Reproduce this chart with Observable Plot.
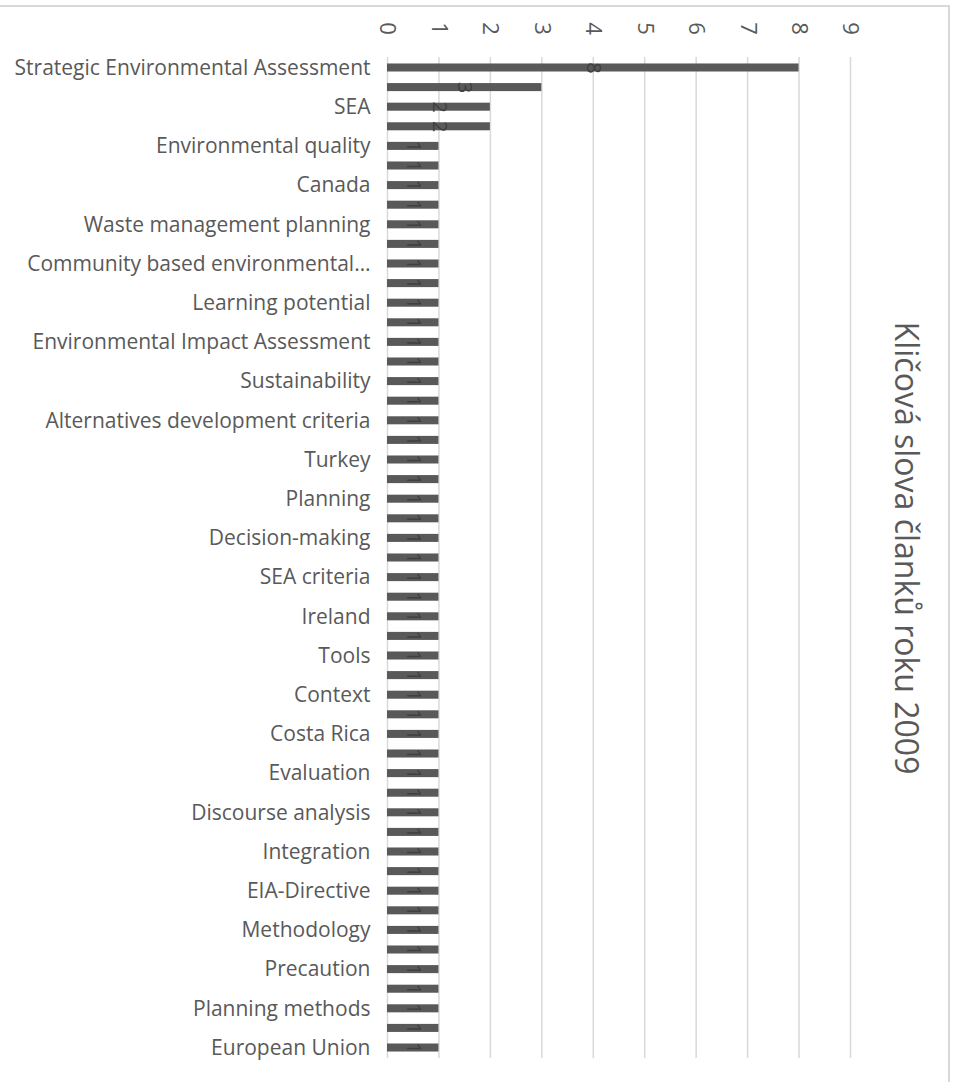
<!DOCTYPE html>
<html>
<head>
<meta charset="utf-8">
<script src="https://cdn.jsdelivr.net/npm/d3@7"></script>
<script src="https://cdn.jsdelivr.net/npm/@observablehq/plot@0.6"></script>
<style>
  html, body { margin: 0; padding: 0; background: #fff; }
  #wrap { position: relative; width: 954px; height: 1082px; overflow: hidden; }
  #wrap .bt { position: absolute; left: 0; top: 5px; width: 950px; height: 2px; background: #d9d9d9; }
  #wrap .br { position: absolute; left: 948px; top: 5px; width: 2px; height: 1077px; background: #d9d9d9; }
</style>
</head>
<body>
<div id="wrap"><div class="bt"></div><div class="br"></div></div>
<script>
// Keywords in chart order (top to bottom); null = label hidden in the original chart
const keywords = [
  "Strategic Environmental Assessment", null,
  "SEA", null,
  "Environmental quality", null,
  "Canada", null,
  "Waste management planning", null,
  "Community based environmental…", null,
  "Learning potential", null,
  "Environmental Impact Assessment", null,
  "Sustainability", null,
  "Alternatives development criteria", null,
  "Turkey", null,
  "Planning", null,
  "Decision-making", null,
  "SEA criteria", null,
  "Ireland", null,
  "Tools", null,
  "Context", null,
  "Costa Rica", null,
  "Evaluation", null,
  "Discourse analysis", null,
  "Integration", null,
  "EIA-Directive", null,
  "Methodology", null,
  "Precaution", null,
  "Planning methods", null,
  "European Union"
];
const counts = [
  8, 3, 2, 2, 1, 1, 1, 1, 1, 1,
  1, 1, 1, 1, 1, 1, 1, 1, 1, 1,
  1, 1, 1, 1, 1, 1, 1, 1, 1, 1,
  1, 1, 1, 1, 1, 1, 1, 1, 1, 1,
  1, 1, 1, 1, 1, 1, 1, 1, 1, 1,
  1
];
const xTicks = [0, 1, 2, 3, 4, 5, 6, 7, 8, 9];
const title = "Kličová slova članků roku 2009";

const data = counts.map((v, i) => ({i, v, name: keywords[i]}));
const FONT = "'Open Sans', 'Noto Sans', sans-serif";

const chart = Plot.plot({
  width: 954,
  height: 1082,
  marginLeft: 387,
  marginRight: 104,
  marginTop: 57,
  marginBottom: 24,
  style: {fontFamily: FONT, color: "#595959", background: "#fff"},
  x: {domain: [0, 9], axis: null},
  y: {domain: d3.range(counts.length), paddingInner: 0.59, paddingOuter: 0.33, axis: null},
  marks: [
    Plot.ruleX(xTicks, {stroke: "#d9d9d9", strokeWidth: 1.5}),
    Plot.barX(data, {x: "v", y: "i", fill: "#595959"}),
    Plot.text(data, {x: d => d.v / 2, y: "i", text: d => String(d.v), rotate: 90,
      fill: "#404040", fontSize: 20, textAnchor: "middle", lineAnchor: "middle"}),
    Plot.axisY({tickSize: 0, tickPadding: 17, fontSize: 21, fill: "#595959", label: null,
      tickFormat: i => keywords[i] ?? ""}),
    Plot.text(xTicks, {x: d => d, frameAnchor: "top", dy: -29, text: d => String(d), rotate: 90,
      fontSize: 22, fill: "#595959", textAnchor: "middle", lineAnchor: "middle"}),
    Plot.text([title], {frameAnchor: "right", dx: 55, dy: -10, rotate: 90, fontSize: 32,
      fill: "#595959", textAnchor: "middle", lineAnchor: "middle"})
  ]
});
document.getElementById("wrap").prepend(chart);
</script>
</body>
</html>
